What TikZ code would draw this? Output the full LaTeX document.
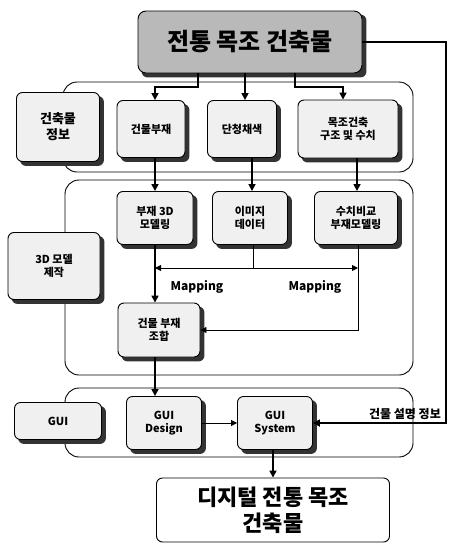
\documentclass[tikz,border=0pt]{standalone}
\usepackage{fontspec}
\setmainfont{Noto Sans CJK KR}
\usetikzlibrary{arrows.meta,backgrounds}
\begin{document}
\begin{tikzpicture}[x=1pt,y=-1pt,
  box/.style={draw=black,line width=0.9pt,rounded corners=6pt,fill=gray!12,
    font=\bfseries\fontsize{11}{13}\selectfont,align=center,inner sep=0pt},
  group/.style={draw=black,line width=0.9pt,rounded corners=14pt},
  shade/.style={fill=black!80,rounded corners=6pt},
  conn/.style={line width=1.6pt},
  arr/.style={conn,-{Triangle[length=7pt,width=7pt]}},
  thin/.style={line width=0.9pt,-{Triangle[length=6pt,width=6pt]}},
  lbl/.style={font=\bfseries\fontsize{11}{13}\selectfont,inner sep=1pt}]
\useasboundingbox (0,0) rectangle (450,544);
% title
\node[box,fill=gray!55,rounded corners=8pt,minimum width=224pt,minimum height=62pt,
  font=\bfseries\fontsize{24}{28}\selectfont] (title) at (250,42) {전통 목조 건축물};
% row 1
\node[box,minimum width=83pt,minimum height=69pt,font=\bfseries\fontsize{13}{16}\selectfont] (info) at (58,127) {건축물\\정보};
\node[box,minimum width=68pt,minimum height=57pt] (bujae) at (151,129) {건물부재};
\node[box,minimum width=69pt,minimum height=57pt] (dan) at (242,129) {단청채색};
\node[box,minimum width=100pt,minimum height=58pt] (mok) at (348,129) {목조건축\\구조 및 수치};
% row 2
\node[box,minimum width=92pt,minimum height=67pt] (model) at (54,266) {3D 모델\\제작};
\node[box,minimum width=76pt,minimum height=53pt] (b3d) at (155,218) {부재 3D\\모델링};
\node[box,minimum width=75pt,minimum height=53pt] (img) at (250,218) {이미지\\데이터};
\node[box,minimum width=83pt,minimum height=53pt] (num) at (356,218) {수치비교\\부재모델링};
\node[box,minimum width=82pt,minimum height=54pt] (comb) at (159,330) {건물 부재\\조합};
\node[lbl,font=\bfseries\fontsize{12}{14}\selectfont] (map1) at (197,287) {Mapping};
\node[lbl,font=\bfseries\fontsize{12}{14}\selectfont] (map2) at (315,287) {Mapping};
% row 3
\node[box,minimum width=87pt,minimum height=37pt] (gui) at (58,421) {GUI};
\node[box,minimum width=75pt,minimum height=53pt] (gd) at (164,423) {GUI\\Design};
\node[box,minimum width=75pt,minimum height=53pt] (gs) at (275,423) {GUI\\System};
\node[lbl,anchor=south east,font=\bfseries\fontsize{12}{14}\selectfont] (desc) at (442,421) {건물 설명 정보};
% final
\node[box,minimum width=233pt,minimum height=64pt,fill=white,
  font=\bfseries\fontsize{22}{26}\selectfont] (final) at (273,510) {디지털 전통 목조\\건축물};
% background: groups and shadows
\begin{scope}[on background layer]
\draw[group] (63,82) rectangle (413,172);
\draw[group] (65,180) rectangle (413,375);
\draw[group] (65,388) rectangle (413,457);
\foreach \n in {title,info,bujae,dan,mok,model,b3d,img,num,comb,gui,gd,gs}
  \fill[shade] ([shift={(4,4)}]\n.north west) rectangle ([shift={(4,4)}]\n.south east);
\end{scope}
% connectors from title
\draw[arr] (title.south -| 198,0) |- (155,87) -- (bujae.north -| 155,0);
\draw[arr] (title.south -| 245,0) -- (dan.north -| 245,0);
\draw[arr] (title.south -| 295,0) |- (343,87) -- (mok.north -| 343,0);
\draw[arr] (title.east) -| (446,423) -- (gs.east);
% row1 -> row2
\draw[arr] (bujae.south -| 155,0) -- (b3d.north -| 155,0);
\draw[arr] (dan.south -| 252,0) -- (img.north -| 252,0);
\draw[arr] (mok.south -| 357,0) -- (num.north -| 357,0);
% mapping
\coordinate (mL) at (155,268);
\coordinate (mR) at (358,268);
\draw[line width=0.9pt] (img.south -| 253,0) -- (253,268);
\draw[thin] (253,268) -- (mL);
\draw[thin] (253,268) -- (mR);
\draw[arr] (b3d.south -| 155,0) -- (comb.north -| 155,0);
\draw[thin] (num.south -| 358,0) |- (comb.east);
% to GUI
\draw[arr] (comb.south -| 155,0) -- (gd.north -| 155,0);
\draw[thin] (gd.east) -- (gs.west);
\draw[arr] (gs.south -| 273,0) -- (final.north -| 273,0);
\end{tikzpicture}
\end{document}
